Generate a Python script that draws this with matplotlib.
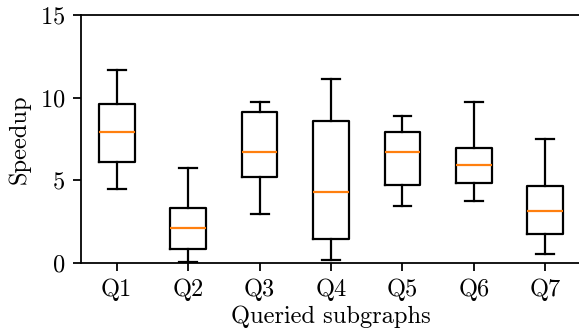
import matplotlib
matplotlib.use("Agg")
import matplotlib.pyplot as plt

plt.rcParams['font.family'] = 'serif'
plt.rcParams['font.serif'] = ['cmr10']
plt.rcParams['mathtext.fontset'] = 'cm'
plt.rcParams['axes.formatter.use_mathtext'] = True
plt.rcParams['font.size'] = 11

# values
queries = ['Q1', 'Q2', 'Q3', 'Q4', 'Q5', 'Q6', 'Q7']
whisker_low = [4.48, 0.08, 2.98, 0.18, 3.45, 3.76, 0.55]
box_low = [6.08, 0.83, 5.20, 1.45, 4.72, 4.83, 1.74]
medians = [7.92, 2.14, 6.70, 4.30, 6.72, 5.92, 3.13]
box_high = [9.61, 3.31, 9.11, 8.59, 7.90, 6.95, 4.66]
whisker_high = [11.68, 5.73, 9.76, 11.11, 8.87, 9.71, 7.47]

stats = []
for q, wl, bl, m, bh, wh in zip(queries, whisker_low, box_low, medians, box_high, whisker_high):
    stats.append({'label': q, 'whislo': wl, 'q1': bl, 'med': m, 'q3': bh, 'whishi': wh, 'fliers': []})

fig = plt.figure(figsize=(579 / 160, 335 / 160), dpi=160)
ax = fig.add_axes([81 / 579, 1 - 263 / 335, 500 / 579, 248 / 335])

ax.bxp(stats, showfliers=False)

ax.set_ylim(0, 15)
ax.set_yticks([0, 5, 10, 15])
ax.set_xlabel('Queried subgraphs', labelpad=2)
ax.set_ylabel('Speedup')

fig.savefig('out.png', dpi=160)
